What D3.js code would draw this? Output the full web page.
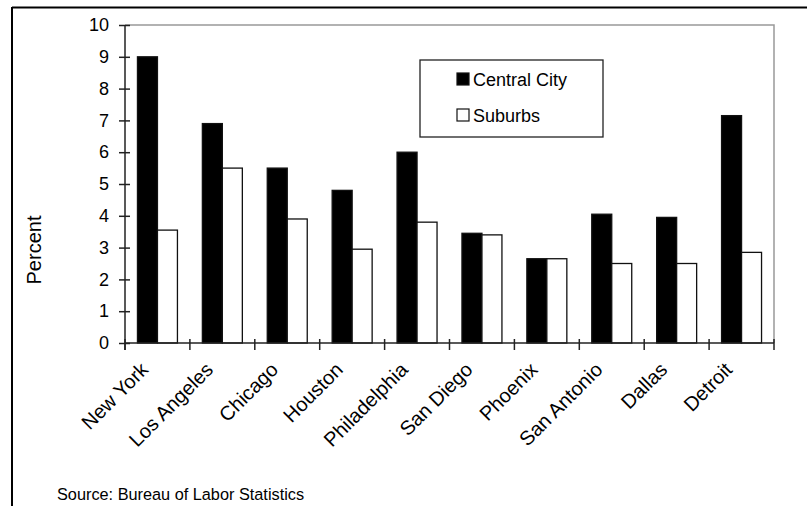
<!DOCTYPE html>
<html>
<head>
<meta charset="utf-8">
<script src="https://cdn.jsdelivr.net/npm/d3@7"></script>
<style>
  body { margin: 0; background: #fff; }
  text { font-family: "Liberation Sans", Arial, sans-serif; fill: #000; }
</style>
</head>
<body>
<svg id="chart" width="807" height="506"></svg>
<script>
// Unemployment rate by metro area, central city vs. suburbs (percent)
const cities = ["New York", "Los Angeles", "Chicago", "Houston", "Philadelphia",
                "San Diego", "Phoenix", "San Antonio", "Dallas", "Detroit"];
const centralCity = [9.0, 6.9, 5.5, 4.8, 6.0, 3.45, 2.65, 4.05, 3.95, 7.15];
const suburbs     = [3.55, 5.5, 3.9, 2.95, 3.8, 3.4, 2.65, 2.5, 2.5, 2.85];
const seriesNames = ["Central City", "Suburbs"];
const seriesFill  = ["#000", "#fff"];
const yTicks = [0, 1, 2, 3, 4, 5, 6, 7, 8, 9, 10];
const yLabel = "Percent";
const sourceNote = "Source: Bureau of Labor Statistics";

const svg = d3.select("#chart");
const plot = { left: 125, right: 774, top: 25, bottom: 343 };

// outer frame (top and left edges of the page box)
svg.append("line").attr("x1", 12).attr("x2", 807).attr("y1", 7.5).attr("y2", 7.5)
  .attr("stroke", "#000").attr("stroke-width", 2);
svg.append("line").attr("x1", 12).attr("x2", 12).attr("y1", 7).attr("y2", 506)
  .attr("stroke", "#000").attr("stroke-width", 2);

const x = d3.scaleBand().domain(cities).range([plot.left, plot.right])
  .paddingInner(0.384).paddingOuter(0.192);
const xs = d3.scaleBand().domain(seriesNames).range([0, x.bandwidth()]);
const y = d3.scaleLinear().domain([0, 10]).range([plot.bottom, plot.top]);
const step = x.step();

// plot area frame (top and right)
svg.append("path")
  .attr("d", `M${plot.left},${plot.top}H${plot.right}V${plot.bottom}`)
  .attr("fill", "none").attr("stroke", "#999").attr("stroke-width", 1.5);

// bars
const rows = cities.map((c, i) => ({ city: c, values: [centralCity[i], suburbs[i]] }));
const groups = svg.append("g").selectAll("g").data(rows).join("g")
  .attr("transform", d => `translate(${x(d.city)},0)`);
groups.selectAll("rect")
  .data(d => d.values.map((v, k) => ({ name: seriesNames[k], value: v, k })))
  .join("rect")
  .attr("x", d => xs(d.name))
  .attr("width", xs.bandwidth())
  .attr("y", d => y(d.value))
  .attr("height", d => y(0) - y(d.value))
  .attr("fill", d => seriesFill[d.k])
  .attr("stroke", "#111").attr("stroke-width", 1.3);

// y axis
const yAxis = svg.append("g").attr("transform", `translate(${plot.left},0)`)
  .call(d3.axisLeft(y).tickValues(yTicks).tickSize(6).tickPadding(10).tickFormat(d3.format("d")));
yAxis.select(".domain").remove();
yAxis.append("line").attr("x1", 0).attr("x2", 0).attr("y1", plot.top).attr("y2", plot.bottom + 7)
  .attr("stroke", "#222").attr("stroke-width", 1.5);
yAxis.selectAll(".tick line").attr("x1", 5).attr("stroke", "#222").attr("stroke-width", 1.5);
yAxis.selectAll(".tick text").attr("font-size", 18).attr("fill", "#000")
  .style("font-family", "'Liberation Sans', Arial, sans-serif");

// x axis with ticks between categories
const xAxis = svg.append("g");
xAxis.append("line").attr("x1", plot.left).attr("x2", plot.right)
  .attr("y1", plot.bottom).attr("y2", plot.bottom)
  .attr("stroke", "#222").attr("stroke-width", 1.5);
const boundaries = cities.map(c => x(c) - step * x.paddingInner() / 2).concat([plot.right]);
xAxis.selectAll("line.tk").data(boundaries).join("line").attr("class", "tk")
  .attr("x1", d => d).attr("x2", d => d)
  .attr("y1", plot.bottom - 4).attr("y2", plot.bottom + 7)
  .attr("stroke", "#222").attr("stroke-width", 1.5);
xAxis.selectAll("text").data(cities).join("text")
  .attr("transform", d => `translate(${x(d) + x.bandwidth() / 2 - 8},${plot.bottom + 28}) rotate(-45)`)
  .attr("text-anchor", "end")
  .attr("font-size", 20)
  .text(d => d);

// y axis title
svg.append("text")
  .attr("transform", `translate(41,250) rotate(-90)`)
  .attr("text-anchor", "middle")
  .attr("font-size", 20)
  .text(yLabel);

// legend
const legend = svg.append("g");
legend.append("rect").attr("x", 420).attr("y", 60).attr("width", 183).attr("height", 77)
  .attr("fill", "#fff").attr("stroke", "#222").attr("stroke-width", 1.3);
const items = legend.selectAll("g.item").data(seriesNames).join("g").attr("class", "item")
  .attr("transform", (d, i) => `translate(457,${73 + i * 36})`);
items.append("rect").attr("width", 12).attr("height", 12)
  .attr("fill", (d, i) => seriesFill[i]).attr("stroke", "#111").attr("stroke-width", 1.2);
items.append("text").attr("x", 16).attr("y", 13).attr("font-size", 18).text(d => d);

// source note
svg.append("text").attr("x", 57).attr("y", 500).attr("font-size", 16.3).text(sourceNote);
</script>
</body>
</html>
